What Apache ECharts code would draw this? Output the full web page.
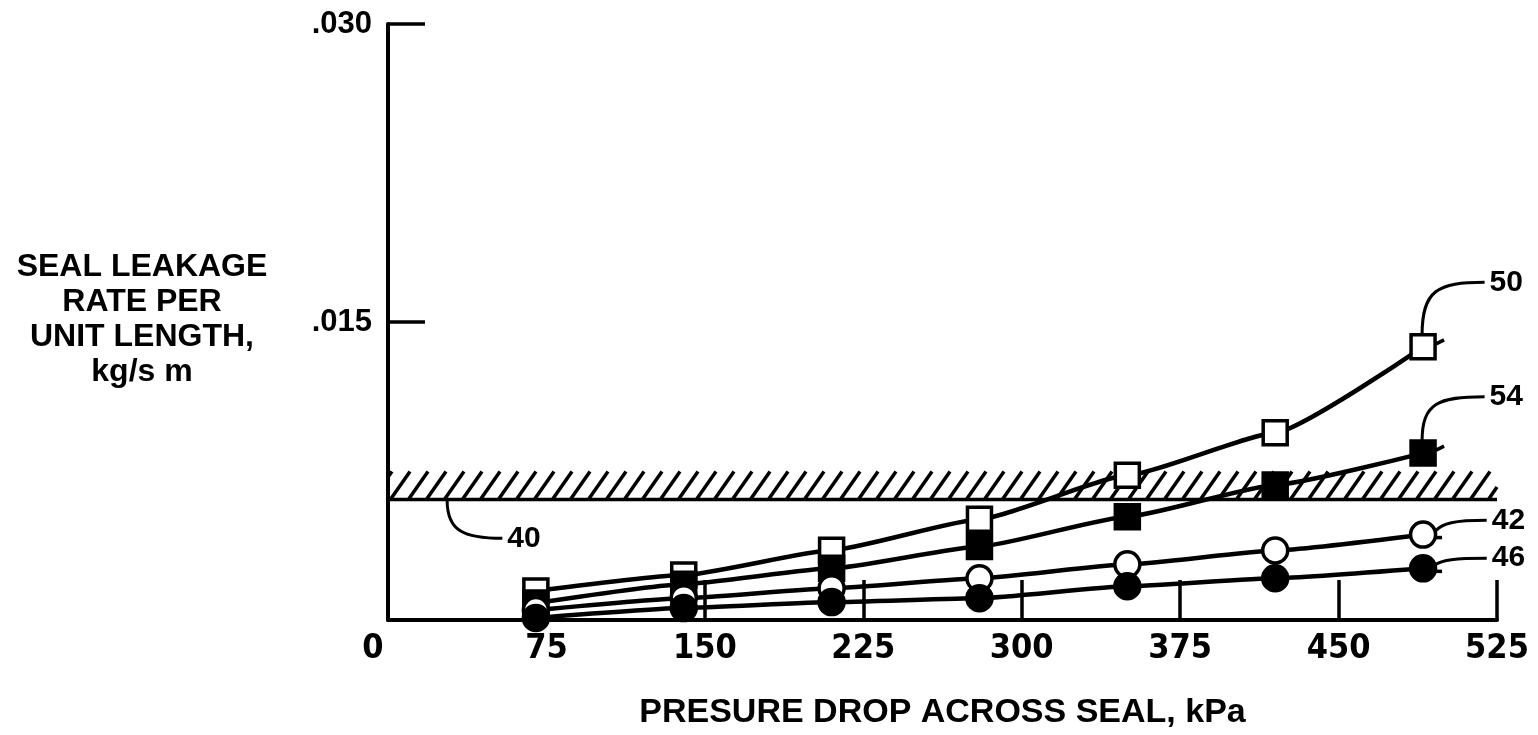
<!DOCTYPE html>
<html>
<head>
<meta charset="utf-8">
<script src="https://cdn.jsdelivr.net/npm/echarts@6/dist/echarts.min.js"></script>
<style>html,body{margin:0;padding:0;background:#fff;}#c{width:1538px;height:735px;}</style>
</head>
<body>
<div id="c"></div>
<script>
// ---- data ----
const pressure = [70, 140, 210, 280, 350, 420, 490];            // kPa
const s50 = [0.00146, 0.00226, 0.00351, 0.00507, 0.00728, 0.00943, 0.01375]; // open square
const s54 = [0.00085, 0.0018, 0.0026, 0.0037, 0.0052, 0.0068, 0.0084];       // filled square
const s42 = [0.0005, 0.0011, 0.0016, 0.0021, 0.0028, 0.0035, 0.0043];        // open circle
const s46 = [0.0001, 0.0006, 0.0009, 0.0011, 0.0017, 0.0021, 0.0026];        // filled circle
const xTicks = [0, 75, 150, 225, 300, 375, 450, 525];
const yTicks = [0, 0.015, 0.030];
const limitBand = [0, 525, 0.00607, 0.00748]; // reference line 40 with hatch above
// leader annotations: marker point, label anchor (data coords), label
const leaders = [
  { label: '50', from: [490, 0.01375], to: [521.5, 0.0170], kind: 'up' },
  { label: '54', from: [490, 0.0084], to: [521.5, 0.01124], kind: 'up' },
  { label: '42', from: [490, 0.0043], to: [522.5, 0.00502], kind: 'side' },
  { label: '46', from: [490, 0.0026], to: [522.5, 0.00311], kind: 'side' },
  { label: '40', from: [28, 0.00607], to: [56.5, 0.00411], kind: 'down' }
];

const FONT = '"Liberation Sans", Arial, Helvetica, sans-serif';
const NARROW = '"Liberation Sans Narrow", "DejaVu Sans Condensed", "Liberation Sans", sans-serif';

function zip(xs, ys) { return xs.map((x, i) => [x, ys[i]]); }

function lineSeries(name, ys, symbol, filled) {
  return {
    name, type: 'line', data: zip(pressure, ys),
    smooth: 0.15, smoothMonotone: 'x',
    symbol, symbolSize: symbol === 'circle' ? 25 : 24,
    lineStyle: { color: '#000', width: 4.5 },
    itemStyle: { color: filled ? '#000' : '#fff', borderColor: '#000', borderWidth: 3.5 },
    z: 3, silent: true
  };
}

const chart = echarts.init(document.getElementById('c'), null, { renderer: 'canvas' });

const option = {
  animation: false,
  backgroundColor: '#fff',
  grid: { left: 388, right: 41, top: 24, bottom: 113, containLabel: false },
  xAxis: {
    type: 'value', min: 0, max: 525, interval: 75,
    name: 'PRESURE DROP ACROSS SEAL, kPa', nameLocation: 'middle', nameGap: 76,
    nameTextStyle: { fontFamily: FONT, fontWeight: 'bold', fontSize: 34, color: '#000' },
    axisLine: { lineStyle: { color: '#000', width: 4 } },
    axisTick: { inside: true, length: 40, lineStyle: { color: '#000', width: 3.5 } },
    splitLine: { show: false },
    axisLabel: {
      margin: 12, color: '#000', fontFamily: NARROW, fontWeight: 'bold', fontSize: 34,
      formatter: v => v === 0 ? '{z|0}' : String(v),
      rich: { z: { padding: [0, 30, 0, 0], fontFamily: NARROW, fontWeight: 'bold', fontSize: 34, color: '#000' } }
    }
  },
  yAxis: {
    type: 'value', min: 0, max: 0.030, interval: 0.015,
    axisLine: { lineStyle: { color: '#000', width: 4 } },
    axisTick: { inside: true, length: 37, lineStyle: { color: '#000', width: 3.5 } },
    splitLine: { show: false },
    axisLabel: {
      margin: 16, color: '#000', fontFamily: FONT, fontWeight: 'bold', fontSize: 31,
      formatter: v => v === 0 ? '' : v.toFixed(3).replace(/^0/, '')
    }
  },
  graphic: [{
    type: 'text', x: 142, y: 320,
    style: {
      text: 'SEAL LEAKAGE\nRATE PER\nUNIT LENGTH,\nkg/s m',
      align: 'center', verticalAlign: 'middle',
      fontFamily: FONT, fontWeight: 'bold', fontSize: 32, lineHeight: 35, fill: '#000'
    }
  }],
  series: [
    {
      name: 'limit40', type: 'custom', z: 2, silent: true, clip: false,
      data: [limitBand],
      renderItem: function (params, api) {
        const x0 = api.value(0), x1 = api.value(1), yb = api.value(2), yt = api.value(3);
        const b0 = api.coord([x0, yb]), b1 = api.coord([x1, yb]), t0 = api.coord([x0, yt]);
        const children = [{
          type: 'line', shape: { x1: b0[0], y1: b0[1], x2: b1[0], y2: b1[1] },
          style: { stroke: '#000', lineWidth: 3.5 }
        }];
        const h = b0[1] - t0[1];
        const slant = h * 0.7, step = 18;
        for (let sx = b0[0] + 4 - slant; sx < b1[0]; sx += step) {
          let ax = sx, ay = b0[1], bx = sx + slant, by = t0[1];
          if (ax < b0[0]) { const t = (b0[0] - ax) / slant; ax = b0[0]; ay = b0[1] - t * h; }
          if (bx > b1[0]) { const t = (bx - b1[0]) / slant; bx = b1[0]; by = t0[1] + t * h; }
          if (bx - ax < 1) continue;
          children.push({
            type: 'line', shape: { x1: ax, y1: ay, x2: bx, y2: by },
            style: { stroke: '#000', lineWidth: 3.5 }
          });
        }
        return { type: 'group', children };
      }
    },
    lineSeries('50', s50, 'rect', false),
    lineSeries('54', s54, 'rect', true),
    lineSeries('42', s42, 'circle', false),
    lineSeries('46', s46, 'circle', true),
    {
      name: 'leaders', type: 'custom', z: 4, silent: true, clip: false,
      data: leaders.map(d => [d.from[0], d.from[1], d.to[0], d.to[1]]),
      renderItem: function (params, api) {
        const d = leaders[params.dataIndex];
        const m = api.coord([api.value(0), api.value(1)]);
        const L = api.coord([api.value(2), api.value(3)]);
        const E = [L[0] - 5, L[1]];
        let S, c1, c2;
        const children = [];
        if (d.kind === 'up') {
          S = [m[0] - 1, m[1] - 12];
          const dx = E[0] - S[0], dy = E[1] - S[1];
          c1 = [S[0], S[1] + dy * 0.85];
          c2 = [S[0] + dx * 0.25, E[1]];
          children.push({ type: 'line', shape: { x1: m[0] + 13, y1: m[1] - 3, x2: m[0] + 21, y2: m[1] - 7 },
            style: { stroke: '#000', lineWidth: 3.5 } });
        } else if (d.kind === 'side') {
          S = [m[0] + 13, m[1] - 4];
          const dx = E[0] - S[0], dy = E[1] - S[1];
          c1 = [S[0] + dx * 0.12, S[1] + dy * 0.7];
          c2 = [S[0] + dx * 0.35, E[1]];
          children.push({ type: 'line', shape: { x1: m[0] + 11, y1: m[1] + 3, x2: m[0] + 19, y2: m[1] + 3 },
            style: { stroke: '#000', lineWidth: 3.5 } });
        } else {
          S = [m[0], m[1] + 1];
          const dx = E[0] - S[0], dy = E[1] - S[1];
          c1 = [S[0], S[1] + dy * 0.8];
          c2 = [S[0] + dx * 0.3, E[1]];
        }
        children.push({
          type: 'bezierCurve',
          shape: { x1: S[0], y1: S[1], cpx1: c1[0], cpy1: c1[1], cpx2: c2[0], cpy2: c2[1], x2: E[0], y2: E[1] },
          style: { stroke: '#000', lineWidth: 3, fill: null }
        });
        children.push({
          type: 'text', x: L[0], y: L[1],
          style: { text: d.label, align: 'left', verticalAlign: 'middle',
            fontFamily: FONT, fontWeight: 'bold', fontSize: 30, fill: '#000' }
        });
        return { type: 'group', children };
      }
    }
  ]
};
chart.setOption(option);
</script>
</body>
</html>
